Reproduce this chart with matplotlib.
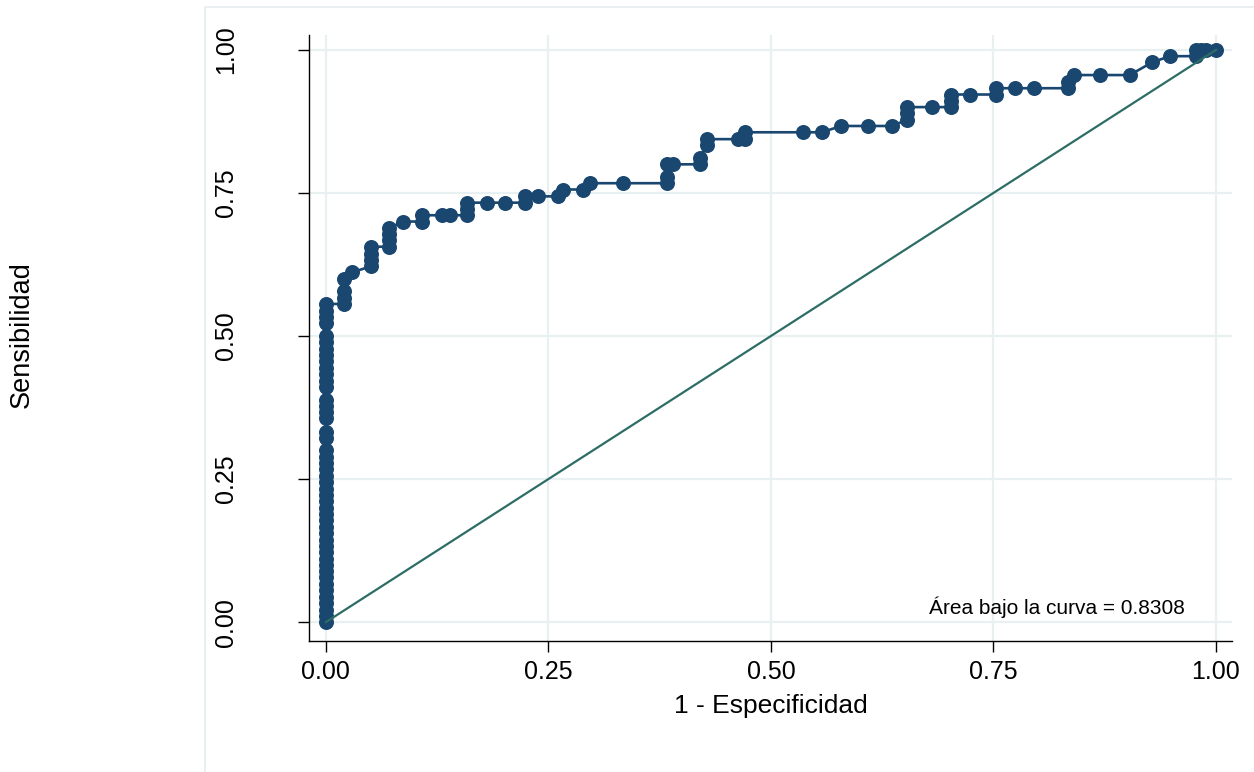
import matplotlib
matplotlib.use("Agg")
import matplotlib.pyplot as plt
from matplotlib.patches import Rectangle

plt.rcParams['font.family'] = ['Liberation Sans', 'DejaVu Sans']

# ROC points: 1 - specificity and sensitivity, in cut-off order
fpr = [0.000] * 47 + [
    0.020, 0.020, 0.020, 0.020, 0.029,
    0.051, 0.051, 0.051, 0.051,
    0.071, 0.071, 0.071, 0.071,
    0.087, 0.108, 0.108, 0.130, 0.139,
    0.158, 0.158, 0.158, 0.181, 0.201,
    0.224, 0.224, 0.238, 0.261, 0.266, 0.289, 0.297, 0.334,
    0.383, 0.383, 0.383, 0.390,
    0.420, 0.420, 0.428, 0.428,
    0.463, 0.471, 0.471, 0.536, 0.557, 0.579, 0.609, 0.636,
    0.653, 0.653, 0.653, 0.681,
    0.702, 0.702, 0.702, 0.724,
    0.753, 0.753, 0.774, 0.795,
    0.834, 0.834, 0.841, 0.870, 0.903, 0.928, 0.948,
    0.977, 0.977, 0.983, 0.989, 1.000]

tpr = [
    0.000, 0.011, 0.022, 0.033, 0.044, 0.056, 0.067, 0.078, 0.089, 0.100,
    0.111, 0.122, 0.133, 0.144, 0.156, 0.167, 0.178, 0.189, 0.200, 0.211,
    0.222, 0.233, 0.244, 0.256, 0.267, 0.278, 0.289, 0.300, 0.322, 0.333,
    0.356, 0.367, 0.378, 0.389, 0.411, 0.422, 0.433, 0.444, 0.456, 0.467,
    0.478, 0.489, 0.500, 0.522, 0.533, 0.544, 0.556,
    0.556, 0.567, 0.578, 0.600, 0.611,
    0.622, 0.633, 0.644, 0.656,
    0.656, 0.667, 0.678, 0.689,
    0.700, 0.700, 0.711, 0.711, 0.711,
    0.711, 0.722, 0.733, 0.733, 0.733,
    0.733, 0.744, 0.744, 0.744, 0.756, 0.756, 0.767, 0.767,
    0.767, 0.778, 0.800, 0.800,
    0.800, 0.811, 0.833, 0.844,
    0.844, 0.844, 0.856, 0.856, 0.856, 0.867, 0.867, 0.867,
    0.878, 0.889, 0.900, 0.900,
    0.900, 0.911, 0.922, 0.922,
    0.922, 0.933, 0.933, 0.933,
    0.933, 0.944, 0.956, 0.956, 0.956, 0.978, 0.989,
    0.989, 1.000, 1.000, 1.000, 1.000]

auc = 0.8308
ticks = [0.00, 0.25, 0.50, 0.75, 1.00]
tick_labels = ["0.00", "0.25", "0.50", "0.75", "1.00"]

W, H = 1254, 772
fig = plt.figure(figsize=(W / 100, H / 100), dpi=100)
fig.patch.set_facecolor("white")

# outer plot-region outline
fig.patches.append(Rectangle((205 / W, -0.05), 1.2, (H - 7) / H + 0.05,
                             transform=fig.transFigure, fill=False,
                             edgecolor="#e6eef0", linewidth=1.2))

ax = fig.add_axes([309 / W, 1 - 641 / H, (1232 - 309) / W, (641 - 35) / H])
ax.set_xlim(-0.019, 1.018)
ax.set_ylim(-0.033, 1.026)

grid_c = "#e8f0f2"
for t in ticks:
    ax.axhline(t, color=grid_c, lw=1.6, zorder=0)
    ax.axvline(t, color=grid_c, lw=1.6, zorder=0)

navy = "#1a476f"
ax.plot(fpr, tpr, color=navy, lw=1.9, marker="o", markersize=10.8,
        markeredgewidth=0, zorder=3, clip_on=False)
ax.plot([0, 1], [0, 1], color="#2d6d66", lw=1.6, zorder=4)

for s in ["top", "right"]:
    ax.spines[s].set_visible(False)
for s in ["left", "bottom"]:
    ax.spines[s].set_color("black")
    ax.spines[s].set_linewidth(1.0)

ax.set_xticks(ticks)
ax.set_xticklabels(tick_labels, fontsize=18)
ax.set_yticks(ticks)
ax.set_yticklabels(tick_labels, fontsize=18, rotation=90, va="center")
ax.tick_params(axis="x", length=8, width=1.0, pad=6)
ax.tick_params(axis="y", length=8, width=1.0, pad=43)

ax.set_xlabel("1 - Especificidad", fontsize=19, labelpad=7)
fig.text(22 / W, 1 - 335 / H, "Sensibilidad", rotation=90, fontsize=19.5,
         ha="center", va="center")

ax.text(0.965, 0.026, "Área bajo la curva = %.4f" % auc, fontsize=15,
        ha="right", va="center", zorder=5)

fig.savefig("out.png", dpi=100, facecolor="white")
